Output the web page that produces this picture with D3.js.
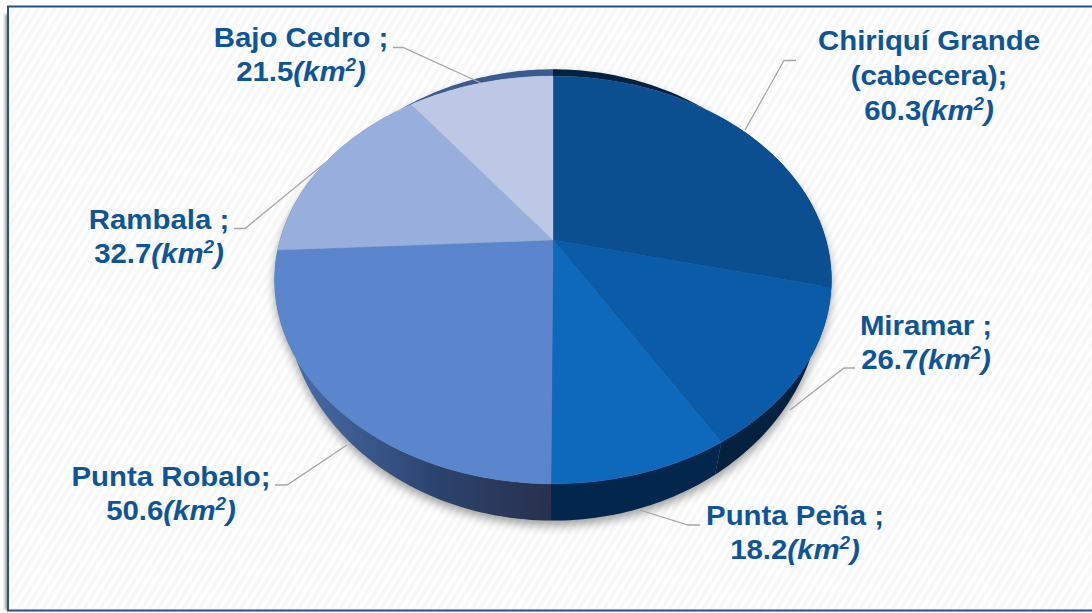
<!DOCTYPE html>
<html><head><meta charset="utf-8">
<script src="https://cdn.jsdelivr.net/npm/d3@7"></script>
<style>html,body{margin:0;padding:0;background:#fff;overflow:hidden}svg{display:block}</style>
</head><body><svg id="c" width="1092" height="613"></svg>
<script>
const categories = ["Chiriquí Grande (cabecera)", "Miramar", "Punta Peña", "Punta Robalo", "Rambala", "Bajo Cedro"];
const values = [60.3, 26.7, 18.2, 50.6, 32.7, 21.5];
const topColors = ["#0b4f91", "#0b5ca8", "#0e69bd", "#5b86cd", "#98aedc", "#bcc8e6"];
const wallColors = ["#04223f", "#04223f", "#03274c", "url(#wallGrad)", "#3a5a90", "#3a5a90"];
const labelLines = [["Chiriquí Grande", "(cabecera);"], ["Miramar ;"], ["Punta Peña ;"], ["Punta Robalo;"], ["Rambala ;"], ["Bajo Cedro ;"]];
const unit = "km";
const labelPos = [[929, 50], [926, 335], [795, 525], [171, 486], [159, 229], [301, 47]];
const leaders = [
  [[796, 60.5], [784, 60.5], [745, 130]],
  [[855, 368], [844, 368], [790, 410]],
  [[700, 525], [688, 525], [640, 510]],
  [[275, 485], [287, 485], [347, 445]],
  [[234, 228.5], [245, 228.5], [325, 163]],
  [[393, 47.5], [403, 47.5], [481, 83]]
];

const svg = d3.select("#c");
const defs = svg.append("defs");
const pat = defs.append("pattern").attr("id", "stripes").attr("width", 7).attr("height", 7)
  .attr("patternUnits", "userSpaceOnUse").attr("patternTransform", "rotate(-58)");
pat.append("rect").attr("width", 7).attr("height", 7).attr("fill", "#ffffff");
pat.append("rect").attr("width", 7).attr("height", 3.5).attr("fill", "#f7f7f7");
const grad = defs.append("linearGradient").attr("id", "wallGrad").attr("gradientUnits", "userSpaceOnUse")
  .attr("x1", 553).attr("x2", 285).attr("y1", 0).attr("y2", 0);
grad.append("stop").attr("offset", 0).attr("stop-color", "#28304d");
grad.append("stop").attr("offset", 0.45).attr("stop-color", "#2d4470");
grad.append("stop").attr("offset", 1).attr("stop-color", "#4a6fae");
defs.append("filter").attr("id", "blur").attr("x", "-10%").attr("y", "-10%").attr("width", "120%").attr("height", "120%")
  .append("feGaussianBlur").attr("stdDeviation", 5);
defs.append("filter").attr("id", "blur2").attr("x", "-50%").attr("y", "-5%").attr("width", "200%").attr("height", "110%")
  .append("feGaussianBlur").attr("stdDeviation", 1.5);

// frame
svg.append("rect").attr("x", 5).attr("y", 14).attr("width", 6).attr("height", 596).attr("fill", "#999").attr("filter", "url(#blur2)");
svg.append("rect").attr("x", 8).attr("y", 6.5).attr("width", 1200).attr("height", 604)
  .attr("fill", "url(#stripes)").attr("stroke", "#27537f").attr("stroke-width", 2);

// perspective projection of the pie discs
const topDisc = {cx: 553, cy: 240, a: 273, b: 196, k: 0.196};
const lowDisc = {cx: 553, cy: 250.7, a: 262.8, b: 217, k: 0.196};
const project = (d, t) => {
  const u = Math.sin(t), v = Math.cos(t), w = 1 + d.k * v;
  return [d.cx + d.a * u / w, d.cy - d.b * v / w];
};
const arcPts = (d, a0, a1) => {
  const n = Math.max(2, Math.ceil((a1 - a0) / 0.02));
  return d3.range(n + 1).map(i => project(d, a0 + (a1 - a0) * i / n));
};
const line = d3.line();
const slices = d3.pie().sort(null).value(d => d)(values);
const full = [0, 2 * Math.PI];

// shadow
const shadow = svg.append("g").attr("filter", "url(#blur)").attr("opacity", 0.55).attr("transform", "translate(0,5)");
shadow.append("path").attr("d", line(arcPts(lowDisc, ...full)) + "Z").attr("fill", "#555");
shadow.append("path").attr("d", line(arcPts(topDisc, 1.2, 5.1)) + "Z").attr("fill", "#555");

// side walls
svg.append("g").selectAll("path").data(slices).join("path")
  .attr("d", s => line(arcPts(topDisc, s.startAngle, s.endAngle).concat(arcPts(lowDisc, s.startAngle, s.endAngle).reverse())) + "Z")
  .attr("fill", (s, i) => wallColors[i]);

// top face
svg.append("g").selectAll("path").data(slices).join("path")
  .attr("d", s => line([[topDisc.cx, topDisc.cy]].concat(arcPts(topDisc, s.startAngle, s.endAngle))) + "Z")
  .attr("fill", (s, i) => topColors[i])
  .attr("stroke", (s, i) => topColors[i]).attr("stroke-width", 0.4);

// leaders
svg.append("g").selectAll("path").data(leaders).join("path")
  .attr("d", d => line(d)).attr("fill", "none").attr("stroke", "#a6a6a6").attr("stroke-width", 1.3);

// labels
const fs = 28, lh = 35;
const labels = svg.append("g").attr("font-family", "'Liberation Sans', Arial, sans-serif")
  .attr("font-weight", "bold").attr("font-size", fs).attr("fill", "#0d5596").attr("text-anchor", "middle");
categories.forEach((c, i) => {
  const [x, y] = labelPos[i];
  const g = labels.append("g").attr("transform", `translate(${x},${y}) scale(1.05,1)`);
  labelLines[i].forEach((t, j) => g.append("text").attr("y", j * lh).text(t));
  const t = g.append("text").attr("y", labelLines[i].length * lh - (labelLines[i].length === 1 ? 1 : 0));
  t.append("tspan").text(values[i].toFixed(1));
  t.append("tspan").attr("font-style", "italic").text("(" + unit);
  t.append("tspan").attr("font-style", "italic").text("m").attr("visibility", "hidden").remove();
  t.append("tspan").attr("font-style", "italic").text("2").attr("font-size", 18).attr("dy", -10).attr("font-weight", "bold");
  t.append("tspan").attr("font-style", "italic").text(")").attr("dy", 10);
});
</script></body></html>
